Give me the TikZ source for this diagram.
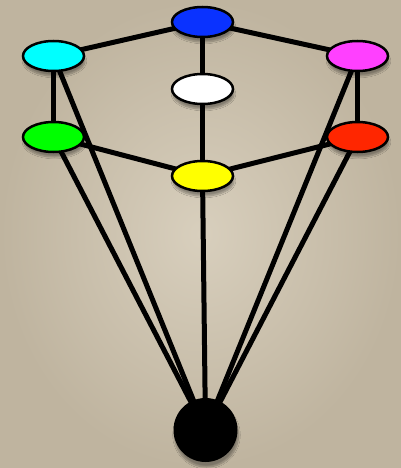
\documentclass[tikz,border=0pt]{standalone}
\usepackage{tikz}
\usetikzlibrary{shapes.geometric, positioning, backgrounds, shadows.blur}
\usepackage{xcolor}

\definecolor{bgin}{HTML}{D8CFBD}
\definecolor{bgout}{HTML}{BFB49F}
\definecolor{nblue}{HTML}{0A32FF}
\definecolor{ncyan}{HTML}{00FFFF}
\definecolor{nmagenta}{HTML}{FF40FF}
\definecolor{ngreen}{HTML}{00FF00}
\definecolor{nred}{HTML}{FF2600}
\definecolor{nyellow}{HTML}{FFFF00}

\begin{document}
\begin{tikzpicture}[
      x=1pt, y=-1pt,
      oval/.style={ellipse, draw, line width=2.5pt, minimum width=61pt, minimum height=30pt, inner sep=0pt,
                   blur shadow={shadow xshift=1pt, shadow yshift=-5pt, shadow opacity=35, shadow blur steps=10}},
      sink/.style={circle, fill=black, minimum size=64pt, inner sep=0pt,
                   blur shadow={shadow xshift=1pt, shadow yshift=-5pt, shadow opacity=35, shadow blur steps=10}},
      line/.style={draw, line width=5pt}
  ]

  \useasboundingbox (0,0) rectangle (401,468);

  \node [oval, fill=nblue] (top) at (202.5,22) {};
  \node [oval, fill=ncyan] (cyan) at (53.5,56) {};
  \node [oval, fill=nmagenta] (magenta) at (357.5,56) {};
  \node [oval, fill=white] (white) at (202.5,89) {};
  \node [oval, fill=ngreen] (green) at (53.5,137) {};
  \node [oval, fill=nred] (red) at (357.5,137) {};
  \node [oval, fill=nyellow] (yellow) at (202.5,176) {};
  \node [sink] (bottom) at (205.5,430) {};

  \begin{scope}[on background layer]
    % backdrop first, edges over it
    \fill[inner color=bgin, outer color=bgout] (0,0) rectangle (401,468);
    \path [line] (top.center) -- (cyan.center);
    \path [line] (top.center) -- (magenta.center);
    \path [line] (top.center) -- (white.center);
    \path [line] (white.center) -- (yellow.center);
    \path [line] (cyan.center) -- (green.center);
    \path [line] (magenta.center) -- (red.center);
    \path [line] (green.center) -- (yellow.center);
    \path [line] (red.center) -- (yellow.center);
    \path [line] (cyan.center) -- (bottom.center);
    \path [line] (green.center) -- (bottom.center);
    \path [line] (magenta.center) -- (bottom.center);
    \path [line] (red.center) -- (bottom.center);
    \path [line] (yellow.center) -- (bottom.center);
  \end{scope}

\end{tikzpicture}
\end{document}
